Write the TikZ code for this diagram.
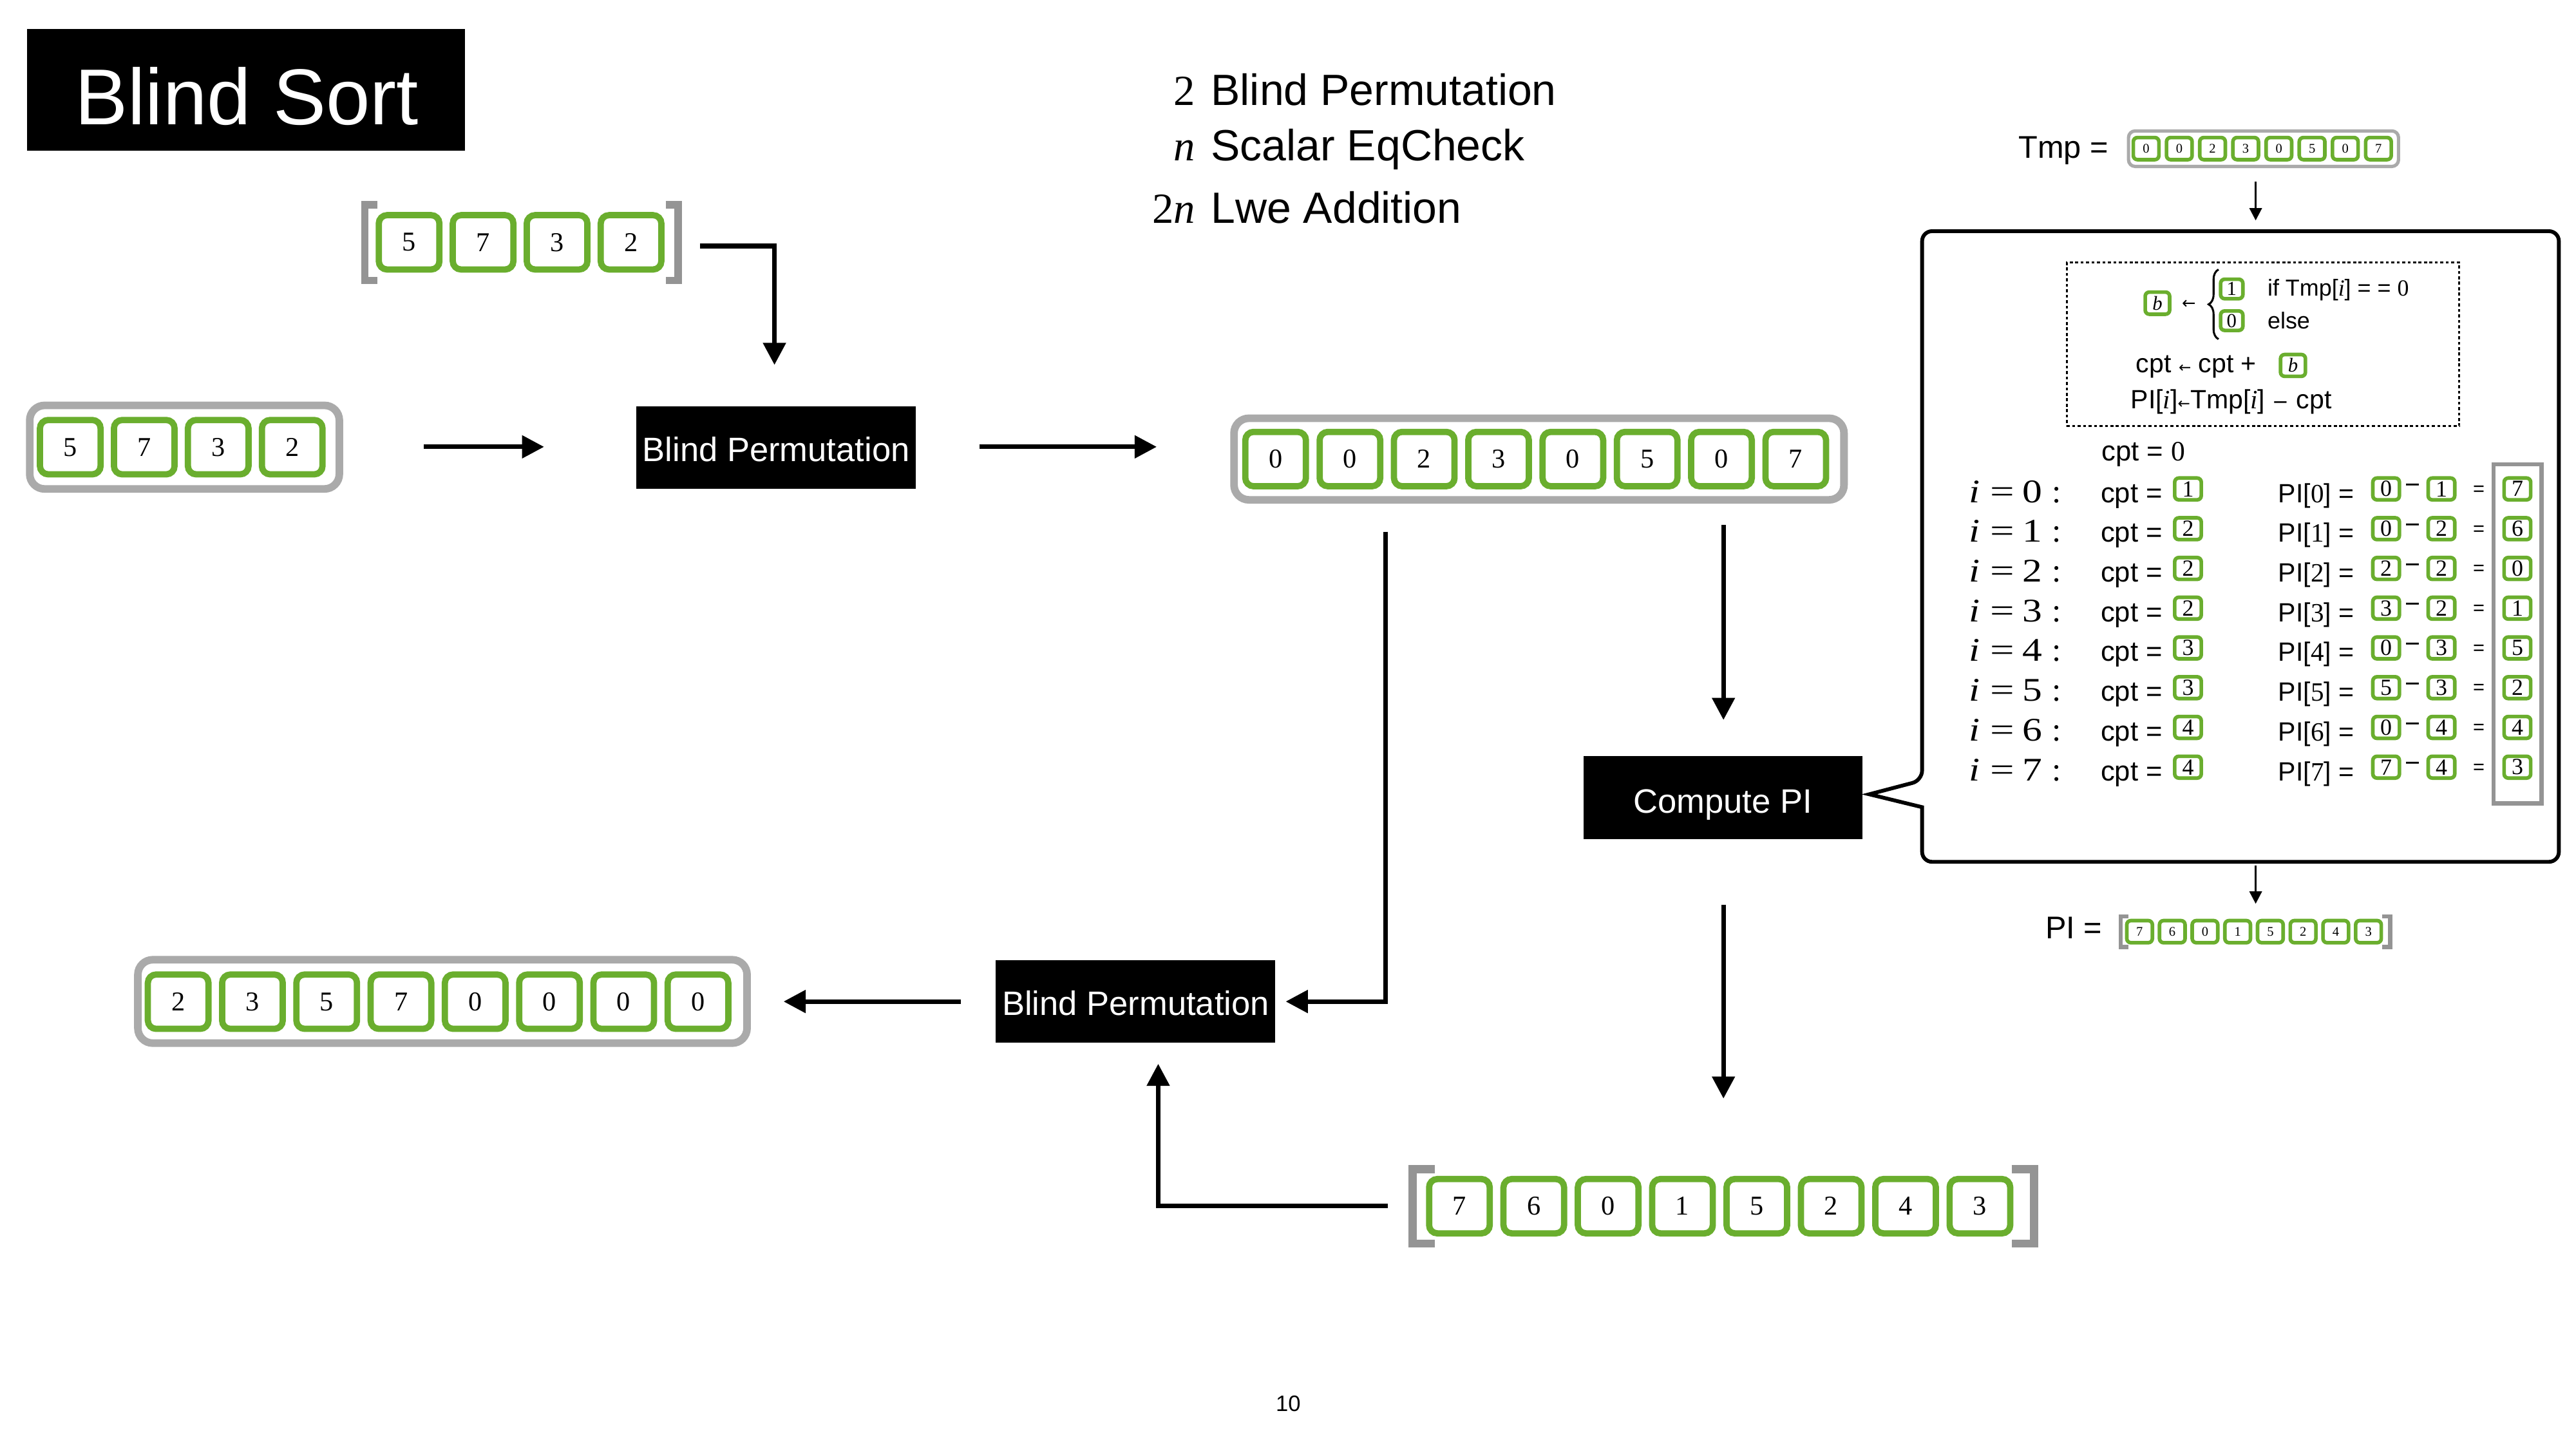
\documentclass[tikz,border=0pt]{standalone}
\usepackage{graphicx}
\usepackage{fontspec}
\setmainfont{Liberation Sans}
\newfontfamily\tms{Liberation Serif}
\newfontfamily\djv{DejaVu Sans}
\usetikzlibrary{arrows.meta,decorations.pathreplacing}
\definecolor{gr}{RGB}{106,174,46}
\definecolor{lgray}{RGB}{170,170,170}
\definecolor{bgray}{RGB}{148,148,148}
\newcommand\fsz[1]{\fontsize{#1}{#1}\selectfont}
\begin{document}
\begin{tikzpicture}[x=1pt,y=-1pt,
 gbox/.style={draw=gr, fill=white, line width=3.8pt, rounded corners=5pt, minimum width=36.7pt, minimum height=32.9pt, inner sep=0pt, font=\tms\fsz{16.5}},
 tbox/.style={draw=gr, fill=white, line width=2.2pt, rounded corners=2.5pt, minimum width=15.5pt, minimum height=13.4pt, inner sep=0pt, font=\tms\fsz{8}},
 rbox/.style={draw=gr, fill=white, line width=2.2pt, rounded corners=2.5pt, minimum width=16.1pt, minimum height=13.2pt, inner sep=0pt, font=\tms\fsz{14}},
 blk/.style={fill=black, inner sep=0pt},
 wtxt/.style={white, anchor=base, inner sep=0pt, font=\fsz{20.5}},
 conn/.style={line width=2.8pt, line join=miter, -{Triangle[length=13.4pt,width=13.4pt]}},
 thinarr/.style={line width=1.2pt, -{Triangle[length=7.5pt,width=7.5pt]}},
 grayframe/.style={draw=lgray, line width=4.6pt, rounded corners=9pt, inner sep=0pt},
 brk/.style={draw=bgray, line width=4.9pt, line cap=butt, line join=miter},
 txt/.style={inner sep=0pt, anchor=base west},
]
\fill[white] (0,0) rectangle (1560,877.5);
\useasboundingbox (0,0) rectangle (1560,877.5);

% ---------- title ----------
\node[blk, minimum width=265.3pt, minimum height=73.6pt] (title) at (149.05,54.3) {};
\node[white, anchor=base, inner sep=0pt, font=\fsz{48}] (titletxt) at (149.5,75.6) {Blind Sort};

% ---------- cost text ----------
\node[txt, font=\fsz{26.5}] (l1) at (733.2,63.6) {Blind Permutation};
\node[txt, font=\fsz{26.5}] (l2) at (733.2,97.5) {Scalar EqCheck};
\node[txt, font=\fsz{26.5}] (l3) at (733.2,135) {Lwe Addition};
\node[anchor=base east, inner sep=0pt, font=\tms\fsz{26}] (p1) at (724,63.6) {2};
\node[anchor=base east, inner sep=0pt, font=\tms\itshape\fsz{26}] (p2) at (724,97.5) {n};
\node[anchor=base east, inner sep=0pt, font=\tms\fsz{26}] (p3) at (724,135) {2\itshape n};

% ---------- array A (bracketed, top) ----------
\foreach \v [count=\k from 0] in {5,7,3,2} {
  \node[gbox] (a\k) at ({247.75+44.8*\k},146.75) {\v};
}
\draw[brk, line width=4.5pt] (228.4,124.05) -- (220.85,124.05) -- (220.85,169.85) -- (228.4,169.85);
\draw[brk, line width=4.5pt] (403.2,124.05) -- (410.75,124.05) -- (410.75,169.85) -- (403.2,169.85);

% ---------- array B (left) ----------
\node[grayframe, minimum width=187.5pt, minimum height=50.6pt] (frB) at (111.75,270.8) {};
\foreach \v [count=\k from 0] in {5,7,3,2} {
  \node[gbox] (b\k) at ({42.55+44.8*\k},270.8) {\v};
}

% ---------- array C (Tmp) ----------
\node[grayframe, minimum width=369.4pt, minimum height=49.4pt] (frC) at (932,278) {};
\foreach \v [count=\k from 0] in {0,0,2,3,0,5,0,7} {
  \node[gbox] (c\k) at ({772.5+45*\k},278) {\v};
}

% ---------- array D (PI, bottom) ----------
\foreach \v [count=\k from 0] in {7,6,0,1,5,2,4,3} {
  \node[gbox] (d\k) at ({883.8+45.03*\k},730.45) {\v};
}
\draw[brk] (869,708.05) -- (855.45,708.05) -- (855.45,753.05) -- (869,753.05);
\draw[brk] (1218.2,708.05) -- (1231.75,708.05) -- (1231.75,753.05) -- (1218.2,753.05);

% ---------- array E (output) ----------
\node[grayframe, minimum width=368.9pt, minimum height=50.5pt] (frE) at (267.95,606.45) {};
\foreach \v [count=\k from 0] in {2,3,5,7,0,0,0,0} {
  \node[gbox] (e\k) at ({107.9+44.97*\k},606.6) {\v};
}

% ---------- black boxes ----------
\node[blk, minimum width=168.9pt, minimum height=49.7pt] (bp1) at (469.95,271.05) {};
\node[wtxt] (bp1t) at (470,279.5) {Blind Permutation};
\node[blk, minimum width=169.2pt, minimum height=50pt] (bp2) at (687.7,606.5) {};
\node[wtxt] (bp2t) at (687.8,614.7) {Blind Permutation};
\node[blk, minimum width=169pt, minimum height=50pt] (cpi) at (1043.5,483) {};
\node[wtxt] (cpit) at (1043.3,492.4) {Compute PI};

% ---------- main connectors ----------
\coordinate (k1s) at (424,149);    \coordinate (k1e) at (469,221);
\coordinate (k2s) at (256.7,270.6); \coordinate (k2e) at (329.5,270.6);
\coordinate (k3s) at (593,270.6);  \coordinate (k3e) at (700.5,270.6);
\coordinate (k4s) at (839.2,322);  \coordinate (k4e) at (778.6,606.5);
\coordinate (k5s) at (1043.7,318); \coordinate (k5e) at (1043.7,436);
\coordinate (k6s) at (1043.7,547.8); \coordinate (k6e) at (1043.7,665.3);
\coordinate (k7s) at (840.4,730.2); \coordinate (k7e) at (701.4,644.2);
\coordinate (k8s) at (581.8,606.5); \coordinate (k8e) at (474.5,606.5);
\draw[conn] (k1s) -| (k1e);
\draw[conn] (k2s) -- (k2e);
\draw[conn] (k3s) -- (k3e);
\draw[conn] (k4s) |- (k4e);
\draw[conn] (k5s) -- (k5e);
\draw[conn] (k6s) -- (k6e);
\draw[conn] (k7s) -| (k7e);
\draw[conn] (k8s) -- (k8e);

% ---------- right panel ----------
\node[anchor=base east, inner sep=0pt, font=\fsz{19}] (tmplbl) at (1277,95.6) {Tmp =};
\node[draw=lgray, line width=2pt, rounded corners=4pt, minimum width=163.5pt, minimum height=21.5pt, inner sep=0pt] (frT) at (1370.75,90.05) {};
\foreach \v [count=\k from 0] in {0,0,2,3,0,5,0,7} {
  \node[tbox] (t\k) at ({1299.65+20.1*\k},90) {\v};
}
\coordinate (s1s) at (1366,109.9); \coordinate (s1e) at (1366,133.5);
\draw[thinarr] (s1s) -- (s1e);

\draw[line width=2.3pt, line join=miter] (1132,481) -- (1164,488.8) [rounded corners=6pt] -- (1164,521.9) -- (1549.6,521.9) -- (1549.6,140) -- (1164,140) -- (1164,472.6) [sharp corners] -- cycle;

% dotted box
\node[draw, line width=1.3pt, dash pattern=on 1.8pt off 1.5pt, minimum width=237.7pt, minimum height=99.1pt, inner sep=0pt] (dot) at (1370.45,208.55) {};
\node[tbox, minimum width=14.8pt, font=\tms\itshape\fsz{12}] (bb) at (1306.5,183.6) {b};
\node[inner sep=0pt, font=\djv\fsz{10}] (arr1) at (1325.5,184.4) {←};
\draw[line width=1.2pt, decorate, decoration={brace,amplitude=6pt}] (1343.5,205.4) -- (1343.5,163.2);
\node[tbox, minimum width=13.5pt, minimum height=11.8pt, font=\tms\fsz{12}] (one) at (1351.5,175) {1};
\node[tbox, minimum width=13.5pt, minimum height=11.8pt, font=\tms\fsz{12}] (zero) at (1351.5,194.2) {0};
\node[txt, font=\fsz{14}] (cond) at (1373,179.1) {if Tmp[{\tms\itshape i}] = = {\tms 0}};
\node[txt, font=\fsz{14}] (els) at (1373,198.9) {else};
\node[txt, font=\fsz{16}] (upd) at (1293.4,225.6) {cpt {\djv\fsz{9}←} cpt +};
\node[tbox, minimum width=15.1pt, minimum height=13.2pt, font=\tms\itshape\fsz{12}] (bb2) at (1388.6,221.3) {b};
\node[txt, font=\fsz{16}] (pidef) at (1290.2,247.3) {PI[{\tms\itshape i}]{\djv\fsz{9}←}Tmp[{\tms\itshape i}] {\djv\fsz{12}−} cpt};

\node[txt, font=\fsz{17}] (cpt0) at (1272.5,278.9) {cpt = {\tms 0}};
\node[draw=bgray, line width=2.5pt, minimum width=29.1pt, minimum height=205.3pt, inner sep=0pt] (res) at (1524.6,383.8) {};
\foreach \c/\a/\b/\r [count=\k from 0] in {1/0/1/7, 2/0/2/6, 2/2/2/0, 2/3/2/1, 3/0/3/5, 3/5/3/2, 4/0/4/4, 4/7/4/3} {
  \pgfmathsetmacro\yb{304.2+24.07*\k}
  \pgfmathsetmacro\yc{\yb-8.1}
  \node[txt, font=\tms\fsz{20}] (ri\k) at (1192.3,\yb) {\scalebox{1.2}[1]{\itshape i}\hspace{6pt}\scalebox{1.3}[1]{=}\hspace{5pt}\scalebox{1.2}[1]{\k}\hspace{6pt}:};
  \node[txt, font=\fsz{17}] (rc\k) at (1272,\yb) {cpt =};
  \node[rbox] (rcv\k) at (1325,\yc) {\c};
  \node[txt, font=\fsz{16}] (rp\k) at (1379.6,\yb) {PI[{\tms\k}] =};
  \node[rbox] (ra\k) at (1445,\yc) {\a};
  \node[inner sep=0pt, font=\fsz{16}] (rm\k) at (1461.3,\yc) {−};
  \node[rbox] (rb\k) at (1478.5,\yc) {\b};
  \node[inner sep=0pt, font=\fsz{12}] (re\k) at (1501.1,{\yc+1}) {=};
  \node[rbox] (rr\k) at (1524.5,\yc) {\r};
}

\coordinate (s2s) at (1366,524); \coordinate (s2e) at (1366,547.3);
\draw[thinarr] (s2s) -- (s2e);
\node[anchor=base east, inner sep=0pt, font=\fsz{19}] (pilbl) at (1273.2,568.5) {PI =};
\foreach \v [count=\k from 0] in {7,6,0,1,5,2,4,3} {
  \node[tbox] (q\k) at ({1295.7+19.8*\k},564.2) {\v};
}
\draw[brk, line width=2.6pt] (1289,554.9) -- (1284.2,554.9) -- (1284.2,573.5) -- (1289,573.5);
\draw[brk, line width=2.6pt] (1442.7,554.9) -- (1447.5,554.9) -- (1447.5,573.5) -- (1442.7,573.5);

% page number
\node[txt, font=\fsz{13.5}] (pg) at (772.4,854.5) {10};
\end{tikzpicture}
\end{document}
